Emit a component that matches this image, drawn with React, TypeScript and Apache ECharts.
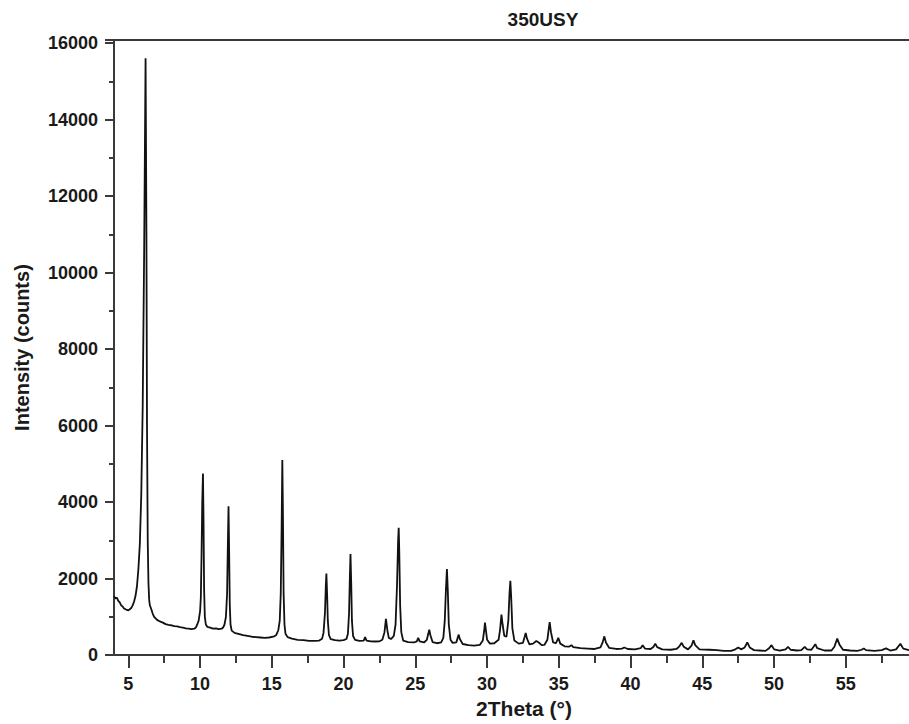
import React, { useEffect, useRef } from "react";
import * as echarts from "echarts";

// 2Theta (°), intensity (counts)
const lowAngle: [number, number][] = [
  [4.0, 1540], [4.1, 1480], [4.2, 1500], [4.3, 1420], [4.4, 1380], [4.5, 1300], [4.6, 1270], [4.7, 1220],
  [4.8, 1200], [4.9, 1180], [5.0, 1170], [5.1, 1200], [5.2, 1230], [5.3, 1300], [5.4, 1400], [5.5, 1550],
  [5.6, 1800], [5.7, 2250], [5.8, 2900], [5.9, 4200], [6.0, 6500], [6.1, 10500], [6.2, 15600], [6.26, 11000],
  [6.3, 6000], [6.35, 3000], [6.4, 1900], [6.45, 1450], [6.5, 1300], [6.55, 1250], [6.6, 1200], [6.7, 1080],
  [6.8, 1000], [6.9, 960], [7.0, 920], [7.2, 880], [7.4, 850], [7.6, 810], [7.8, 790], [8.0, 780], [8.2, 760],
  [8.4, 750], [8.6, 730], [8.8, 720], [9.0, 700], [9.2, 690], [9.4, 680], [9.6, 690], [9.7, 720], [9.8, 800],
  [9.9, 900], [10.0, 1150], [10.05, 1500], [10.1, 2600], [10.15, 4000], [10.2, 4750], [10.24, 3500],
  [10.28, 1700], [10.33, 1000], [10.4, 800], [10.5, 740], [10.7, 720], [10.9, 690], [11.1, 700], [11.3, 680],
  [11.5, 690], [11.6, 720], [11.7, 800], [11.8, 1000], [11.88, 1600], [11.93, 2800], [11.98, 3890],
  [12.02, 2800], [12.07, 1300], [12.12, 800], [12.2, 640], [12.4, 580], [12.6, 560], [12.8, 540], [13.0, 520],
  [13.3, 500], [13.6, 480], [13.9, 470], [14.2, 460], [14.5, 450], [14.8, 460], [15.1, 480], [15.3, 520],
  [15.45, 650], [15.55, 900], [15.62, 1600], [15.68, 3300], [15.73, 5100], [15.77, 3800], [15.82, 1600],
  [15.88, 800], [15.95, 560], [16.1, 470], [16.4, 430], [16.8, 400], [17.2, 390], [17.6, 370], [18.0, 370],
];

const midAngle: [number, number][] = [
  [18.3, 380], [18.5, 430], [18.6, 580], [18.7, 1100], [18.76, 1800], [18.8, 2135], [18.85, 1600], [18.9, 900],
  [18.98, 520], [19.1, 420], [19.4, 390], [19.7, 380], [20.0, 390], [20.2, 420], [20.3, 560], [20.38, 1100],
  [20.44, 2100], [20.48, 2640], [20.53, 1900], [20.58, 900], [20.66, 500], [20.8, 400], [21.1, 370],
  [21.4, 380], [21.5, 470], [21.6, 380], [21.9, 360], [22.2, 355], [22.5, 360], [22.7, 400], [22.85, 600],
  [22.95, 950], [23.05, 650], [23.15, 450], [23.3, 420], [23.5, 500], [23.62, 800], [23.72, 1800],
  [23.8, 3000], [23.84, 3330], [23.88, 2700], [23.94, 1300], [24.02, 600], [24.15, 380], [24.5, 340],
  [24.9, 330], [25.1, 360], [25.2, 450], [25.3, 360], [25.6, 330], [25.8, 400], [25.9, 560], [25.97, 665],
  [26.05, 520], [26.2, 340], [26.5, 310], [26.8, 330], [26.95, 450], [27.05, 900], [27.13, 1700],
  [27.2, 2250], [27.26, 1700], [27.33, 800], [27.45, 400], [27.6, 320], [27.85, 330], [27.95, 450],
  [28.02, 535], [28.1, 420], [28.3, 290], [28.7, 260], [29.1, 250], [29.5, 270], [29.7, 380], [29.8, 650],
  [29.85, 850], [29.9, 700], [30.0, 400], [30.2, 300], [30.5, 310], [30.8, 400], [30.9, 650], [31.0, 1060],
  [31.08, 800], [31.2, 500], [31.35, 480], [31.48, 900], [31.56, 1600], [31.62, 1945], [31.68, 1500],
  [31.76, 700], [31.9, 380], [32.2, 300], [32.5, 320], [32.62, 480], [32.69, 580], [32.78, 430], [32.95, 280],
  [33.2, 300], [33.43, 370], [33.6, 330], [33.8, 260], [34.0, 270], [34.2, 400], [34.3, 700], [34.36, 865],
  [34.45, 600], [34.6, 330], [34.8, 310], [34.96, 450], [35.1, 300], [35.4, 230], [35.7, 220],
];

const highAngle: [number, number][] = [
  [35.88, 260], [36.0, 210], [36.5, 180], [37.0, 170], [37.5, 160], [37.9, 200], [38.05, 330], [38.17, 490],
  [38.28, 330], [38.5, 190], [39.0, 160], [39.4, 170], [39.56, 200], [39.8, 160], [40.3, 150], [40.7, 180],
  [40.84, 260], [41.0, 170], [41.4, 160], [41.6, 220], [41.72, 300], [41.85, 210], [42.2, 150], [42.8, 140],
  [43.2, 160], [43.4, 230], [43.56, 320], [43.7, 220], [44.0, 150], [44.25, 250], [44.38, 390], [44.5, 260],
  [44.8, 150], [45.5, 140], [46.0, 130], [46.5, 110], [47.0, 110], [47.3, 150], [47.5, 200], [47.7, 150],
  [47.95, 200], [48.13, 330], [48.3, 200], [48.6, 130], [49.0, 120], [49.4, 110], [49.65, 180], [49.82, 260],
  [50.0, 150], [50.4, 120], [50.8, 150], [50.97, 215], [51.15, 140], [51.6, 120], [51.9, 130], [52.13, 215],
  [52.3, 150], [52.6, 140], [52.75, 220], [52.87, 285], [53.0, 180], [53.5, 120], [54.0, 120], [54.2, 220],
  [54.4, 430], [54.55, 280], [54.8, 140], [55.3, 120], [55.8, 110], [56.1, 140], [56.25, 175], [56.4, 130],
  [57.0, 110], [57.5, 130], [57.8, 175], [58.1, 120], [58.5, 150], [58.8, 295], [59.0, 170], [59.4, 130],
];

const xMajorTicks = [5, 10, 15, 20, 25, 30, 35, 40, 45, 50, 55];
const xMinorTicks = [7.5, 12.5, 17.5, 22.5, 27.5, 32.5, 37.5, 42.5, 47.5, 52.5, 57.5];
const titleText = "350USY";
const xName = "2Theta (°)";
const yName = "Intensity (counts)";

const FONT = "'Liberation Sans', Arial, Helvetica, sans-serif";
const AXIS_COLOR = "#3a3a3a";
const TEXT_COLOR = "#1a1a1a";

export default function App() {
  const ref = useRef<HTMLDivElement>(null);
  useEffect(() => {
    document.body.style.margin = "0";
    if (!ref.current) return;
    const chart = echarts.init(ref.current, undefined, { renderer: "svg" });
    const data = [...lowAngle, ...midAngle, ...highAngle];
    chart.setOption({
      animation: false,
      backgroundColor: "#ffffff",
      title: {
        text: titleText,
        left: 538,
        top: 5,
        textAlign: "center",
        textStyle: { fontFamily: FONT, fontWeight: "bold", fontSize: 19, color: TEXT_COLOR },
      },
      grid: { left: 114, right: 0, top: 40, bottom: 64, containLabel: false },
      xAxis: [
        {
          type: "value",
          min: 4,
          max: 59.4,
          position: "bottom",
          name: xName,
          nameLocation: "middle",
          nameGap: 41,
          nameTextStyle: { fontFamily: FONT, fontWeight: "bold", fontSize: 21, color: TEXT_COLOR, padding: [0, 0, 0, 25] },
          axisLine: { show: true, onZero: false, lineStyle: { color: AXIS_COLOR, width: 2 } },
          axisTick: { show: true, length: 13, customValues: xMajorTicks, lineStyle: { color: AXIS_COLOR, width: 2 } },
          axisLabel: {
            customValues: xMajorTicks,
            margin: 20,
            fontFamily: FONT,
            fontWeight: "bold",
            fontSize: 18,
            color: TEXT_COLOR,
          },
          splitLine: { show: false },
        },
        {
          type: "value",
          min: 4,
          max: 59.4,
          position: "bottom",
          axisLine: { show: false },
          axisTick: { show: true, length: 8, customValues: xMinorTicks, lineStyle: { color: AXIS_COLOR, width: 2 } },
          axisLabel: { show: false },
          splitLine: { show: false },
        },
        {
          type: "value",
          min: 4,
          max: 59.4,
          position: "top",
          axisLine: { show: true, onZero: false, lineStyle: { color: AXIS_COLOR, width: 2 } },
          axisTick: { show: false },
          axisLabel: { show: false },
          splitLine: { show: false },
        },
      ],
      yAxis: {
        type: "value",
        min: 0,
        max: 16080,
        interval: 2000,
        name: yName,
        nameLocation: "middle",
        nameGap: 82,
        nameTextStyle: { fontFamily: FONT, fontWeight: "bold", fontSize: 20, color: TEXT_COLOR },
        axisLine: { show: true, onZero: false, lineStyle: { color: AXIS_COLOR, width: 2 } },
        axisTick: { show: true, length: 9, lineStyle: { color: AXIS_COLOR, width: 2 } },
        minorTick: { show: true, splitNumber: 2, length: 5, lineStyle: { color: AXIS_COLOR, width: 2 } },
        axisLabel: {
          showMaxLabel: false,
          margin: 16,
          formatter: (v: number) => String(v),
          fontFamily: FONT,
          fontWeight: "bold",
          fontSize: 18,
          color: TEXT_COLOR,
        },
        splitLine: { show: false },
        minorSplitLine: { show: false },
      },
      series: [
        {
          type: "line",
          xAxisIndex: 0,
          data,
          showSymbol: false,
          symbol: "none",
          lineStyle: { color: "#111111", width: 1.8 },
          clip: true,
        },
      ],
    });
    return () => chart.dispose();
  }, []);
  return <div ref={ref} style={{ width: 909, height: 724 }} />;
}
